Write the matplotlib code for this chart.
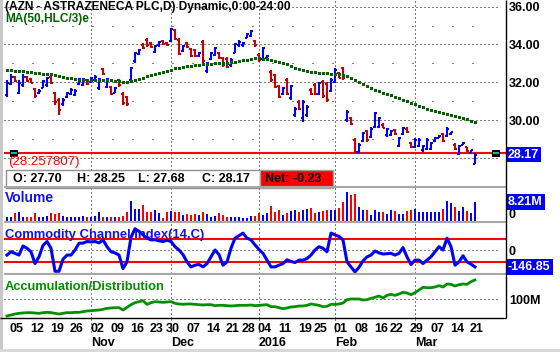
import numpy as np
import matplotlib.pyplot as plt
from matplotlib.patches import Rectangle

# AZN daily bars, 1 Oct 2015 .. 21 Mar 2016
high = [32.11, 32.41, 32.32, 32.11, 32.41, 32.32, 32.20, 31.71, 31.62, 32.11,
        32.29, 32.38, 31.50, 31.14, 31.14, 31.50, 31.67, 31.62, 32.20, 32.24,
        32.15, 32.29, 32.38, 32.25, 32.73, 32.25, 31.80, 31.76, 32.15, 31.46,
        31.27, 32.82, 33.61, 33.74, 34.05, 34.32, 34.14, 33.96, 34.19, 34.23,
        34.14, 34.85, 34.79, 34.32, 33.96, 34.14, 33.79, 33.74, 33.61, 34.23,
        33.08, 33.61, 33.88, 33.61, 33.35, 33.31, 33.26, 34.05, 34.23, 34.14,
        34.58, 34.76, 34.26, 33.52, 33.88, 33.44, 32.64, 32.46, 31.85, 31.76,
        32.20, 31.85, 30.70, 31.05, 31.05, 30.79, 31.67, 31.94, 32.02, 32.11,
        32.02, 32.20, 32.73, 32.55, 32.82, 30.53, 30.17, 29.03, 28.76, 29.38,
        29.47, 29.64, 30.44, 30.17, 29.82, 29.56, 29.45, 29.50, 29.11, 29.64,
        29.61, 28.85, 29.03, 29.03, 28.67, 29.03, 28.85, 29.11, 29.20, 29.29,
        29.64, 29.38, 28.76, 28.67, 28.85, 28.59, 28.41, 28.25]
low = [31.20, 31.85, 32.02, 31.37, 31.76, 32.02, 31.94, 31.14, 31.37, 31.67,
       31.76, 31.90, 30.79, 30.26, 30.74, 31.14, 31.32, 31.27, 31.85, 31.80,
       31.85, 31.94, 32.02, 31.58, 32.38, 31.67, 31.32, 31.41, 31.76, 30.79,
       30.74, 32.02, 33.03, 33.44, 33.74, 33.88, 33.79, 33.52, 33.88, 33.96,
       33.91, 34.14, 34.23, 33.44, 33.61, 33.79, 33.35, 33.31, 33.35, 32.99,
       32.50, 33.17, 33.38, 33.21, 32.82, 32.73, 32.82, 33.52, 33.88, 33.88,
       34.32, 34.41, 33.88, 33.08, 33.17, 33.26, 32.02, 31.67, 31.14, 31.32,
       31.32, 31.05, 30.17, 30.53, 29.91, 30.17, 31.32, 31.32, 31.32, 31.14,
       30.97, 31.50, 31.94, 32.20, 32.11, 29.91, 29.73, 28.23, 28.23, 28.85,
       28.85, 29.03, 29.56, 29.56, 29.56, 29.11, 29.15, 29.20, 28.59, 29.20,
       29.29, 28.50, 28.50, 28.59, 28.32, 28.41, 28.41, 28.85, 29.03, 28.85,
       29.11, 29.20, 28.41, 28.14, 28.67, 28.32, 28.23, 27.68]
open_ = [31.30, 31.90, 32.28, 31.45, 31.85, 32.28, 32.15, 31.65, 31.45, 31.70,
         31.85, 32.30, 31.45, 31.05, 30.85, 31.20, 31.40, 31.35, 31.90, 31.85,
         32.10, 32.00, 32.10, 31.70, 32.70, 31.75, 31.75, 31.45, 32.10, 31.40,
         31.20, 32.10, 33.10, 33.50, 33.95, 34.25, 34.10, 33.60, 33.95, 34.20,
         34.10, 34.20, 34.75, 34.25, 33.65, 34.05, 33.75, 33.70, 33.40, 34.15,
         32.60, 33.25, 33.45, 33.55, 33.30, 33.25, 32.90, 33.55, 33.95, 33.95,
         34.35, 34.45, 34.20, 33.45, 33.25, 33.30, 32.55, 32.40, 31.80, 31.40,
         32.10, 31.15, 30.25, 30.95, 30.10, 30.25, 31.60, 31.85, 31.40, 32.00,
         31.90, 31.55, 32.00, 32.50, 32.75, 30.00, 30.10, 28.95, 28.30, 28.90,
         29.40, 29.10, 29.65, 29.65, 29.75, 29.20, 29.20, 29.45, 28.65, 29.25,
         29.55, 28.80, 28.55, 28.65, 28.40, 28.45, 28.45, 28.90, 29.05, 29.25,
         29.15, 29.25, 28.70, 28.20, 28.70, 28.55, 28.25, 27.70]
close = [31.95, 32.30, 32.08, 31.95, 32.30, 32.05, 31.98, 31.25, 31.55, 32.05,
         32.25, 31.95, 30.95, 30.55, 31.05, 31.45, 31.60, 31.55, 32.15, 32.15,
         31.90, 32.25, 32.30, 32.15, 32.45, 32.15, 31.40, 31.70, 31.85, 30.90,
         30.85, 32.75, 33.55, 33.70, 33.80, 33.95, 33.85, 33.90, 34.15, 34.00,
         33.95, 34.80, 34.30, 33.50, 33.90, 33.85, 33.40, 33.40, 33.55, 33.10,
         33.00, 33.55, 33.80, 33.30, 32.90, 32.80, 33.20, 34.00, 34.15, 34.10,
         34.55, 34.70, 33.95, 33.15, 33.80, 33.40, 32.10, 31.75, 31.20, 31.70,
         31.40, 31.80, 30.60, 30.60, 30.95, 30.70, 31.40, 31.40, 31.95, 31.25,
         31.05, 32.10, 32.65, 32.25, 32.20, 30.45, 29.80, 28.30, 28.70, 29.30,
         28.95, 29.55, 30.35, 30.10, 29.60, 29.50, 29.40, 29.25, 29.05, 29.60,
         29.35, 28.55, 28.95, 28.95, 28.60, 28.95, 28.80, 29.05, 29.15, 28.90,
         29.55, 29.35, 28.45, 28.60, 28.80, 28.35, 28.40, 28.17]
ma50 = [32.65, 32.63, 32.61, 32.60, 32.58, 32.56, 32.54, 32.51, 32.48, 32.46,
        32.43, 32.41, 32.36, 32.31, 32.27, 32.23, 32.20, 32.16, 32.12, 32.11,
        32.11, 32.12, 32.13, 32.14, 32.14, 32.12, 32.10, 32.08, 32.06, 32.03,
        32.01, 32.04, 32.10, 32.17, 32.25, 32.31, 32.37, 32.43, 32.48, 32.53,
        32.60, 32.67, 32.73, 32.77, 32.81, 32.85, 32.88, 32.90, 32.93, 32.95,
        32.97, 32.98, 33.00, 33.01, 33.02, 33.04, 33.06, 33.08, 33.11, 33.16,
        33.20, 33.25, 33.28, 33.26, 33.24, 33.22, 33.18, 33.12, 33.08, 33.02,
        32.94, 32.86, 32.77, 32.68, 32.63, 32.57, 32.54, 32.52, 32.50, 32.49,
        32.47, 32.45, 32.43, 32.41, 32.37, 32.31, 32.24, 32.14, 32.00, 31.90,
        31.80, 31.70, 31.60, 31.52, 31.44, 31.37, 31.30, 31.23, 31.15, 31.06,
        30.99, 30.91, 30.83, 30.76, 30.69, 30.61, 30.55, 30.49, 30.44, 30.38,
        30.32, 30.26, 30.20, 30.16, 30.09, 30.03, 29.95, 29.87]
# volume in millions
volume = [1.56, 1.84, 3.26, 3.68, 1.84, 1.84, 1.84, 3.26, 1.84, 1.84,
          2.27, 3.26, 2.83, 3.26, 2.27, 1.56, 1.84, 1.56, 1.84, 2.27,
          1.84, 1.56, 2.27, 3.68, 1.84, 1.84, 1.84, 1.56, 1.84, 2.27,
          3.68, 8.50, 5.38, 5.38, 6.80, 3.96, 3.96, 4.67, 3.26, 1.13,
          3.96, 4.25, 3.68, 3.96, 2.55, 2.83, 2.55, 2.83, 2.55, 3.96,
          2.83, 1.84, 2.12, 3.26, 2.55, 1.84, 1.84, 1.56, 1.56, 1.42,
          1.13, 2.27, 2.27, 3.26, 2.55, 3.26, 6.51, 3.96, 4.67, 2.55,
          3.26, 4.25, 4.67, 3.96, 4.67, 5.10, 5.81, 3.26, 3.96, 4.25,
          4.67, 4.67, 4.96, 5.66, 8.21, 12.74, 11.33, 11.47, 6.09, 4.67,
          4.67, 2.55, 4.96, 3.96, 3.96, 2.83, 4.67, 4.25, 2.83, 2.83,
          4.25, 4.67, 5.38, 3.96, 3.68, 3.68, 3.68, 3.68, 3.96, 5.10,
          8.50, 7.93, 6.09, 4.25, 6.09, 4.25, 3.26, 8.21]
cci = [-44, -15, -29, -44, 35, 15, -15, -118, -59, 40,
       74, 15, -185, -185, -80, -44, -44, 0, 59, 60,
       74, 70, 74, 62, 88, 29, -15, -25, -44, -162,
       -103, 110, 185, 162, 132, 103, 88, 90, 80, 74,
       85, 74, 29, 0, -40, -103, -147, -132, -125, -147,
       -118, -59, 0, -40, -132, -103, 15, 103, 125, 147,
       103, 88, 44, 5, -29, -88, -147, -147, -132, -118,
       -85, -100, -109, -88, -88, -74, -44, 0, 29, 15,
       -15, 147, 132, 118, 88, -103, -147, -191, -150, -95,
       -60, -44, -9, -25, -35, -32, -29, -44, -29, 21,
       -60, -126, -88, -88, -118, -88, -59, -15, 29, 0,
       103, 29, -132, -103, -50, -103, -123, -146.85]
# accumulation/distribution, millions
ad = [50, 53, 56, 58, 59, 60, 60, 59, 58, 60,
      61, 60, 58, 56, 58, 60, 60, 61, 61, 63,
      65, 66, 67, 68, 70, 73, 74, 75, 75, 68,
      76, 84, 90, 93, 96, 85, 90, 93, 92, 91,
      92, 93, 88, 86, 85, 86, 86, 85, 84, 83,
      84, 84, 81, 82, 82, 81, 80, 81, 82, 82,
      82, 83, 81, 82, 83, 84, 78, 78, 75, 72,
      74, 77, 78, 80, 80, 82, 86, 84, 82, 78,
      79, 85, 85, 86, 89, 99, 101, 101, 101, 98,
      99, 103, 106, 110, 104, 112, 115, 112, 116, 121,
      119, 114, 120, 128, 136, 135, 135, 137, 141, 137,
      146, 145, 140, 144, 146, 145, 153, 158]

day_ticks = [2, 7, 12, 17, 22, 27, 32, 37, 41, 46, 51, 56, 60,
             64, 69, 74, 78, 83, 88, 93, 97, 102, 107, 112, 117]
day_labels = ['05', '12', '19', '26', '02', '09', '16', '23', '30', '07', '14', '21', '28',
              '04', '11', '19', '25', '01', '08', '16', '22', '29', '07', '14', '21']
month_pos = [21, 41, 63, 82, 102]
month_labels = ['Nov', 'Dec', '2016', 'Feb', 'Mar']
price_ticks = [30, 32, 34, 36]
hline_price = 28.257807

plt.rcParams['font.family'] = ['Liberation Sans', 'DejaVu Sans']
plt.rcParams['font.weight'] = 'bold'
plt.rcParams['font.size'] = 9

W, H = 560, 352
fig = plt.figure(figsize=(W / 100, H / 100), dpi=100)


def rect(x0, y0, x1, y1):
    return [x0 / W, 1 - y1 / H, (x1 - x0) / W, (y1 - y0) / H]


idx = np.arange(len(close))
up = np.array(close) >= np.array(open_)
bar_col = np.where(up, '#0000ff', '#cc0000')
vol_col = np.where(up, '#0000ff', '#ff0000')
PX = 0.72
DOT = (0, (1, 3))


def panel(y0, y1, ylim):
    a = fig.add_axes(rect(4, y0, 506, y1))
    a.set_xlim(-0.75, 124.75)
    a.set_ylim(*ylim)
    for s in a.spines.values():
        s.set_visible(False)
    a.set_xticks([])
    a.tick_params(axis='y', left=False, right=True, labelleft=False,
                  labelright=True, length=0, pad=2, labelsize=9)
    for m in month_pos:
        a.axvline(m, color='black', lw=PX, ls=DOT, zorder=0)
    return a


def tag(a, val, txt):
    a.annotate(txt, xy=(1, val), xycoords=('axes fraction', 'data'),
               xytext=(2, 0), textcoords='offset pixels', ha='left', va='center',
               color='white', fontsize=9,
               bbox=dict(boxstyle='square,pad=0.15', fc='#0000ff', ec='none'))


# price panel
ax = panel(0, 186, (26.51, 36.35))
ax.set_yticks(price_ticks, [f'{p:.2f}' for p in price_ticks])
for p in price_ticks + [28]:
    ax.axhline(p, xmax=0.982, color='black', lw=PX, ls=DOT, zorder=0)
for p in [29, 31, 33, 35]:
    ax.axhline(p, xmin=0.015, xmax=0.95, color='black', lw=PX, ls=(0, (1, 19)), zorder=0)
ax.axhline(hline_price, color='#ff0000', lw=1.5, zorder=1)
ax.vlines(idx, low, high, colors=bar_col, lw=1.5, zorder=3)
ax.hlines(open_, idx - 0.6, idx, colors=bar_col, lw=1.5, zorder=3)
ax.hlines(close, idx, idx + 0.6, colors=bar_col, lw=1.5, zorder=3)
ax.plot(idx, ma50, ls='none', marker='s', ms=2.16, mew=0, color='#006400',
        antialiased=False, zorder=4)
tag(ax, close[-1], f'{close[-1]:.2f}')

# volume
axv = panel(187, 221, (0, 14.7))
axv.bar(idx, volume, width=0.5, color=vol_col, zorder=2)
axv.set_yticks([0], ['0'])
for t in axv.get_yticklabels():
    t.set_va('bottom')
tag(axv, volume[-1], f'{volume[-1]:.2f}M')
axv.text(0.002, 0.68, 'Volume', transform=axv.transAxes, color='#1010ff', va='center', fontsize=10)

# CCI
axc = panel(223, 273, (-200, 235))
axc.axhline(0, xmax=0.982, color='black', lw=PX, ls=DOT, zorder=0)
axc.axhline(100, color='#ff0000', lw=1.5, zorder=1)
axc.axhline(-100, color='#ff0000', lw=1.5, zorder=1)
axc.text(0.002, 0.76, 'Commodity Channel Index(14,C)', transform=axc.transAxes,
         color='#1010ff', va='center', fontsize=9.4, zorder=2)
axc.plot(idx, cci, color='#0000ff', lw=2.2, zorder=3)
axc.set_yticks([0], ['0'])
tag(axc, cci[-1], f'{cci[-1]:.2f}')

# A/D
axa = panel(274, 318, (44, 176))
axa.axhline(100, xmax=0.982, color='black', lw=PX, ls=DOT, zorder=0)
axa.plot(idx, ad, color='#009000', lw=2, zorder=3)
axa.set_yticks([100], ['100M'])
axa.text(0.002, 0.70, 'Accumulation/Distribution', transform=axa.transAxes,
         color='#009000', va='center', fontsize=9.3)
axa.set_xticks(np.array(day_ticks) + 0.5, day_labels)
axa.tick_params(axis='x', length=0, pad=3.5, labelsize=9)
for m, lab in zip(month_pos, month_labels):
    axa.text(m, -0.57, lab, transform=axa.get_xaxis_transform(), ha='left', va='center', fontsize=9)
    axa.axvline(m, ymin=-0.32, ymax=0, clip_on=False, color='black', lw=PX, ls=DOT)

# frame, labels and info box (pixel coordinates)
ov = fig.add_axes([0, 0, 1, 1], zorder=10)
ov.set_xlim(0, W)
ov.set_ylim(H, 0)
ov.axis('off')
ov.hlines([186.5, 222, 273.5], 4, 506, color='#a8a8a8', lw=1.5)
ov.vlines(506, 0, 318, color='black', lw=1)
ov.hlines(318, 0, 506, color='black', lw=1)
ov.add_patch(Rectangle((0, 0), 3, 349, fc='#c8c8c8', ec='none'))
ov.add_patch(Rectangle((0, 349), W, 3, fc='#d8d8d8', ec='none'))

ov.text(5, 7, '(AZN - ASTRAZENECA PLC,D) Dynamic,0:00-24:00', va='center',
        color='black', fontsize=8.6)
ov.text(5, 19, 'MA(50,HLC/3)e', va='center', color='#006400', fontsize=8.6)
ov.text(8, 162, f'({hline_price})', va='center', color='#ff0000', fontsize=9.5, weight='normal')
for x in (10, 492):
    ov.add_patch(Rectangle((x, 150), 8, 6.5, fc='black', ec='none'))
    ov.hlines(153.2, x + 1, x + 7, color='#00e0e0', lw=1.2)

ov.add_patch(Rectangle((6, 170), 254, 18, fc='white', ec='#909090', lw=1))
ov.add_patch(Rectangle((260, 170), 73, 18, fc='#ff0000', ec='#a0a0a0', lw=1))
info = [(13, f'O: {open_[-1]:.2f}'), (77, f'H: {high[-1]:.2f}'),
        (138, f'L: {low[-1]:.2f}'), (202, f'C: {close[-1]:.2f}'),
        (265, f'Net: {close[-1] - close[-2]:.2f}')]
for x, txt in info:
    ov.text(x, 179.5, txt, va='center', color='black', fontsize=9)

fig.savefig('out.png', dpi=100)
